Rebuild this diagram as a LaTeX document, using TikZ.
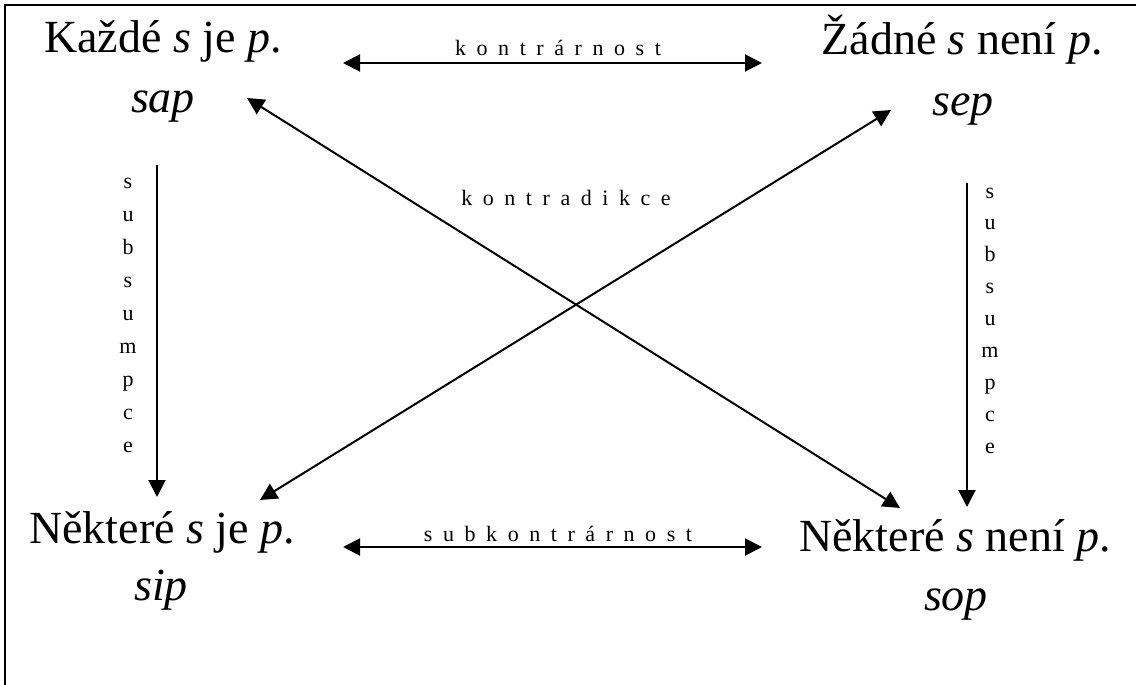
\documentclass[tikz,border=0pt]{standalone}
\usepackage{fontspec}
\setmainfont{Liberation Serif}
\usetikzlibrary{arrows.meta}
\begin{document}
\begin{tikzpicture}[x=1pt,y=-1pt,
  big/.style={font=\fontsize{46}{50}\selectfont, inner sep=0pt, anchor=base},
  small/.style={font=\fontsize{22}{24}\selectfont\addfontfeature{LetterSpace=48}, inner sep=0pt, anchor=base},
  vlet/.style={font=\fontsize{22}{24}\selectfont, inner sep=0pt, anchor=base},
  rel/.style={line width=2pt, {Triangle[length=17pt,width=17pt]}-{Triangle[length=17pt,width=17pt]}},
  sub/.style={line width=2pt, -{Triangle[length=17pt,width=17pt]}}]
\useasboundingbox (0,0) rectangle (1136,685);
\draw[line width=2pt] (5,685) -- (5,5) -- (1136,5);
% propositions
\node[big] (A1) at (163,53) {Každé \textit{s} je \textit{p}.};
\node[big] (A2) at (163,112) {\textit{sap}};
\node[big] (E1) at (962,55) {Žádné \textit{s} není \textit{p}.};
\node[big] (E2) at (963,115) {\textit{sep}};
\node[big] (I1) at (162,543) {Některé \textit{s} je \textit{p}.};
\node[big] (I2) at (161,600) {\textit{sip}};
\node[big] (O1) at (955,551) {Některé \textit{s} není \textit{p}.};
\node[big] (O2) at (956,610) {\textit{sop}};
% arrow endpoints
\coordinate (kL) at (343,63);
\coordinate (kR) at (762,63);
\coordinate (sL) at (343,547);
\coordinate (sR) at (762,547);
\coordinate (d1a) at (247,98);
\coordinate (d1b) at (900,508);
\coordinate (d2a) at (891,110);
\coordinate (d2b) at (260,500);
\coordinate (lT) at (157,165);
\coordinate (lB) at (157,497);
\coordinate (rT) at (967,183);
\coordinate (rB) at (967,507);
% connectors
\draw[rel] (kL) -- (kR);
\draw[rel] (sL) -- (sR);
\draw[rel] (d1a) -- (d1b);
\draw[rel] (d2a) -- (d2b);
\draw[sub] (lT) -- (lB);
\draw[sub] (rT) -- (rB);
% labels
\node[small] (lk) at (558,56) {kontrárnost};
\node[small] (ls) at (558,541) {subkontrárnost};
\node[small] (ld) at (566,205) {kontradikce};
\foreach \ch [count=\i] in {s,u,b,s,u,m,p,c,e}{
  \node[vlet] (L\i) at (128,{188+(\i-1)*33.1}) {\ch};
  \node[vlet] (R\i) at (990,{198+(\i-1)*31.9}) {\ch};
}
\end{tikzpicture}
\end{document}
